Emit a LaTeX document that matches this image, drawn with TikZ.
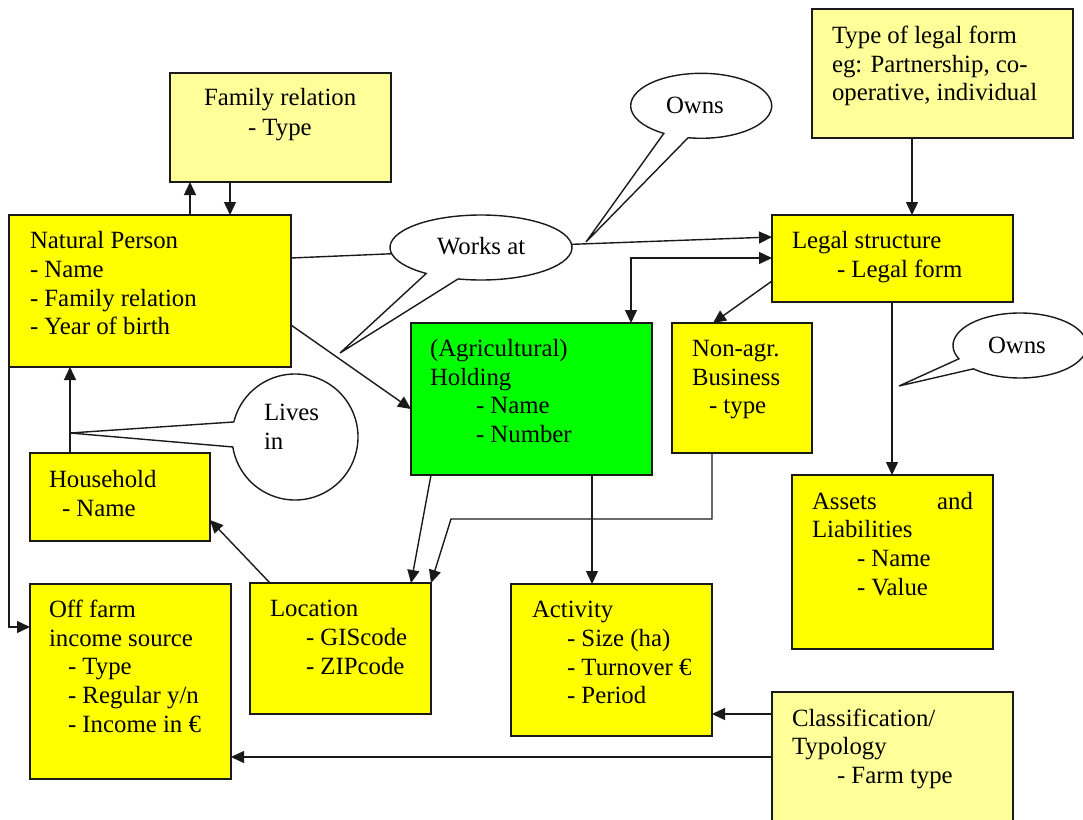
\documentclass[tikz,border=0pt]{standalone}
\usepackage{fontspec}
\setmainfont{Liberation Serif}
\usetikzlibrary{arrows.meta,calc,shapes.geometric}
\definecolor{yel}{HTML}{FFFF00}
\definecolor{lyel}{HTML}{FFFF99}
\definecolor{grn}{HTML}{00FF00}
\definecolor{edge}{HTML}{1A1A1A}
\newcommand\tl[4]{\node[txt] (#1) at (#2,#3) {#4};}
\begin{document}
\begin{tikzpicture}[x=1pt,y=-1pt,
  box/.style={draw=edge,line width=1.8pt,rectangle,anchor=north west,inner sep=0,outer sep=0},
  ybox/.style={box,fill=yel},
  lbox/.style={box,fill=lyel},
  gbox/.style={box,fill=grn},
  txt/.style={anchor=base west,inner sep=0,outer sep=0,font=\fontsize{24.8}{29}\selectfont},
  arr/.style={draw=edge,line width=1.4pt,-{Triangle[length=13pt,width=12pt]}},
  biarr/.style={draw=edge,line width=1.4pt,{Triangle[length=13pt,width=12pt]}-{Triangle[length=13pt,width=12pt]}},
  plain/.style={draw=edge,line width=1.4pt},
  callout/.style={draw=edge,line width=1.4pt,fill=white,line join=miter}]
\clip (0,0) rectangle (1083,819);
\useasboundingbox (0,0) rectangle (1083,819);

% boxes
\node[lbox,minimum width=221,minimum height=109] (fr) at (170,73) {};
\node[ybox,minimum width=282,minimum height=152] (np) at (9,215) {};
\node[lbox,minimum width=261,minimum height=129] (tlf) at (812,9) {};
\node[ybox,minimum width=241,minimum height=87] (ls) at (772,215) {};
\node[gbox,minimum width=241,minimum height=152] (hold) at (411,323) {};
\node[ybox,minimum width=140,minimum height=130] (nab) at (672,323) {};
\node[ybox,minimum width=180,minimum height=88] (hh) at (30,453) {};
\node[ybox,minimum width=201,minimum height=195] (off) at (30,584) {};
\node[ybox,minimum width=181,minimum height=131] (loc) at (250,583) {};
\node[ybox,minimum width=201,minimum height=152] (act) at (511,584) {};
\node[ybox,minimum width=201,minimum height=174] (ast) at (792,475) {};
\node[lbox,minimum width=241,minimum height=150] (cls) at (772,692) {};

% callouts
\draw[callout,shift={(481,247.5)}] (-141,105.5) -- (127:91 and 32.5)
  arc[start angle=127,end angle=464.6,x radius=91,y radius=32.5] -- cycle;
\draw[callout,shift={(701.2,105.8)}] (-115.2,136.2) -- (122:70.5 and 32.5)
  arc[start angle=122,end angle=460.7,x radius=70.5,y radius=32.5] -- cycle;
\draw[callout,shift={(1020,345.5)}] (-121,40.5) -- (155.8:67 and 32.5)
  arc[start angle=155.8,end angle=494.1,x radius=67,y radius=32.5] -- cycle;
\draw[callout,shift={(295,437)}] (-225,-4) -- (193.8:63 and 63)
  arc[start angle=193.8,end angle=530.9,x radius=63,y radius=63] -- cycle;
\node[ellipse,minimum width=182,minimum height=65,inner sep=0,outer sep=0] (wa) at (481,247.5) {};

% connectors
\draw[arr] ([xshift=181]np.north west) -- ([xshift=20]fr.south west);
\draw[arr] ([xshift=60]fr.south west) -- ([xshift=221]np.north west);
\draw[plain] ([yshift=-43]np.north east) -- (wa.184);
\draw[arr] (wa.2) -- ([yshift=-22]ls.north west);
\draw[biarr] ([xshift=220]hold.north west) |- ([yshift=-43]ls.north west);
\draw[arr] ([yshift=-66]ls.north west) -- ([xshift=41]nab.north west);
\draw[arr] ([xshift=100]tlf.south west) -- ([xshift=140]ls.north west);
\draw[arr] ([xshift=120]ls.south west) -- ([xshift=100]ast.north west);
\draw[arr] ([yshift=-110]np.north east) -- ([yshift=-86]hold.north west);
\draw[arr] ([xshift=40]hh.north west) -- ([xshift=61]np.south west);
\draw[arr] (np.south west) |- ([yshift=-43]off.north west);
\draw[arr] ([xshift=20]loc.north west) -- ([yshift=21]hh.south east);
\draw[arr] ([xshift=20]hold.south west) -- ([xshift=161]loc.north west);
\draw[arr] ([xshift=40]nab.south west) -- ++(0,66) -- ++(-261,0) -- (loc.north east);
\draw[arr] ([xshift=181]hold.south west) -- ([xshift=81]act.north west);
\draw[arr] ([yshift=-22]cls.north west) -- ([yshift=-130]act.north east);
\draw[arr] ([yshift=-65]cls.north west) -- ([yshift=-173]off.north east);

% texts
\tl{fr1}{204}{105}{Family relation}
\tl{fr2}{248}{135}{- Type}
\tl{np1}{30}{248}{Natural Person}
\tl{np2}{30}{277}{- Name}
\tl{np3}{30}{306}{- Family relation}
\tl{np4}{30}{334}{- Year of birth}
\tl{wat}{437}{254}{Works at}
\tl{ow1}{666}{113}{Owns}
\tl{ow2}{988}{353}{Owns}
\tl{tlf1}{832}{43}{Type of legal form}
\tl{tlf2}{832}{72}{eg: Partnership, co-}
\tl{tlf3}{832}{100}{operative, individual}
\tl{ls1}{792}{248}{Legal structure}
\tl{ls2}{837}{277}{- Legal form}
\tl{ho1}{430}{356}{(Agricultural)}
\tl{ho2}{430}{385}{Holding}
\tl{ho3}{476}{413}{- Name}
\tl{ho4}{476}{442}{- Number}
\tl{na1}{692}{356}{Non-agr.}
\tl{na2}{692}{385}{Business}
\tl{na3}{709}{413}{- type}
\tl{li1}{264}{420}{Lives}
\tl{li2}{264}{449}{in}
\tl{hh1}{49}{487}{Household}
\tl{hh2}{62}{516}{- Name}
\tl{of1}{49}{617}{Off farm}
\tl{of2}{49}{646}{income source}
\tl{of3}{68}{674}{- Type}
\tl{of4}{68}{703}{- Regular y/n}
\tl{of5}{68}{732}{- Income in €}
\tl{lo1}{270}{616}{Location}
\tl{lo2}{306}{645}{- GIScode}
\tl{lo3}{306}{674}{- ZIPcode}
\tl{ac1}{532}{617}{Activity}
\tl{ac2}{567}{646}{- Size (ha)}
\tl{ac3}{567}{675}{- Turnover €}
\tl{ac4}{567}{703}{- Period}
\tl{as1}{812}{509}{Assets}
\node[txt,anchor=base east] (as1b) at (973,509) {and};
\tl{as2}{812}{537}{Liabilities}
\tl{as3}{857}{566}{- Name}
\tl{as4}{857}{595}{- Value}
\tl{cl1}{792}{726}{Classification/}
\tl{cl2}{792}{754}{Typology}
\tl{cl3}{837}{783}{- Farm type}
\end{tikzpicture}
\end{document}
